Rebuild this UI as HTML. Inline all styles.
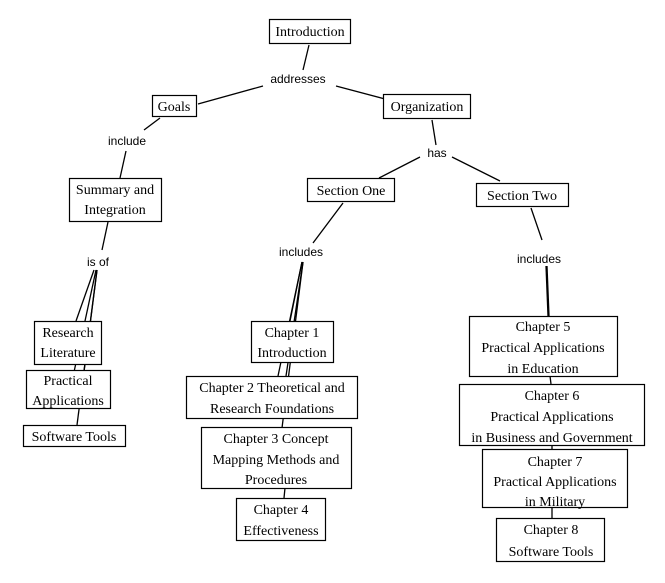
<!DOCTYPE html>
<html><head><meta charset="utf-8"><style>
html,body{margin:0;padding:0;background:#fff;}
svg{display:block}
.b{fill:#fff;stroke:#000;stroke-width:1.2}
.t{font-family:"Liberation Serif",serif;font-size:14px;text-anchor:middle;fill:#000}
.l{font-family:"Liberation Sans",sans-serif;font-size:12px;text-anchor:middle;fill:#000}
line{stroke:#000;stroke-width:1.3}
</style></head><body>
<svg width="665" height="583" viewBox="0 0 665 583" xmlns="http://www.w3.org/2000/svg">
<!-- connectors -->
<line x1="309" y1="45" x2="303" y2="70"/>
<line x1="263" y1="86" x2="198" y2="104"/>
<line x1="336" y1="86" x2="385" y2="99"/>
<line x1="160" y1="118" x2="144" y2="130"/>
<line x1="126" y1="151" x2="120" y2="178"/>
<line x1="432" y1="120" x2="436" y2="145"/>
<line x1="420" y1="157" x2="379" y2="178"/>
<line x1="452" y1="157" x2="500" y2="181"/>
<line x1="343" y1="203" x2="313" y2="243"/>
<line x1="531" y1="208" x2="542" y2="240"/>
<line x1="108" y1="222" x2="102" y2="250"/>
<!-- is of fan -->
<line x1="94" y1="270" x2="76" y2="321"/>
<line x1="96" y1="270" x2="74" y2="372"/>
<line x1="97" y1="270" x2="84" y2="372"/>
<line x1="97" y1="270" x2="77" y2="425"/>
<!-- includes center fan -->
<line x1="302" y1="262" x2="290" y2="321"/>
<line x1="302" y1="262" x2="278" y2="376"/>
<line x1="303" y1="262" x2="282" y2="428"/>
<line x1="303" y1="262" x2="286" y2="376"/>
<line x1="285" y1="488" x2="284" y2="498"/>
<!-- includes right -->
<line x1="546" y1="266" x2="548" y2="316"/>
<line x1="547" y1="266" x2="549" y2="316"/>
<line x1="550" y1="376" x2="551" y2="384"/>
<line x1="552" y1="445" x2="552" y2="449"/>
<line x1="552" y1="507" x2="552" y2="518"/>
<!-- labels -->
<text class="l" x="298" y="83">addresses</text>
<text class="l" x="127" y="145">include</text>
<text class="l" x="437" y="157">has</text>
<text class="l" x="98" y="266">is of</text>
<text class="l" x="301" y="256">includes</text>
<text class="l" x="539" y="263">includes</text>
<!-- boxes -->
<rect class="b" x="269.5" y="19.5" width="81" height="24"/><text class="t" x="310" y="36">Introduction</text>
<rect class="b" x="152.5" y="95.5" width="44" height="21"/><text class="t" x="174" y="111">Goals</text>
<rect class="b" x="383.5" y="94.5" width="87" height="24"/><text class="t" x="427" y="111">Organization</text>
<rect class="b" x="69.5" y="178.5" width="92" height="43"/><text class="t" x="115" y="194">Summary and</text><text class="t" x="115" y="214">Integration</text>
<rect class="b" x="307.5" y="178.5" width="87" height="23"/><text class="t" x="351" y="195">Section One</text>
<rect class="b" x="476.5" y="183.5" width="92" height="23"/><text class="t" x="522" y="200">Section Two</text>
<rect class="b" x="34.5" y="321.5" width="67" height="43"/><text class="t" x="68" y="337">Research</text><text class="t" x="68" y="357">Literature</text>
<rect class="b" x="26.5" y="370.5" width="84" height="38"/><text class="t" x="68" y="385">Practical</text><text class="t" x="68" y="405">Applications</text>
<rect class="b" x="23.5" y="425.5" width="102" height="21"/><text class="t" x="74" y="441">Software Tools</text>
<rect class="b" x="251.5" y="321.5" width="82" height="41"/><text class="t" x="292" y="337">Chapter 1</text><text class="t" x="292" y="357">Introduction</text>
<rect class="b" x="186.5" y="376.5" width="171" height="42"/><text class="t" x="272" y="392">Chapter 2 Theoretical and</text><text class="t" x="272" y="413">Research Foundations</text>
<rect class="b" x="201.5" y="427.5" width="150" height="61"/><text class="t" x="276" y="443">Chapter 3 Concept</text><text class="t" x="276" y="464">Mapping Methods and</text><text class="t" x="276" y="484">Procedures</text>
<rect class="b" x="236.5" y="498.5" width="89" height="42"/><text class="t" x="281" y="514">Chapter 4</text><text class="t" x="281" y="535">Effectiveness</text>
<rect class="b" x="469.5" y="316.5" width="148" height="60"/><text class="t" x="543" y="331">Chapter 5</text><text class="t" x="543" y="352">Practical Applications</text><text class="t" x="543" y="373">in Education</text>
<rect class="b" x="459.5" y="384.5" width="185" height="61"/><text class="t" x="552" y="400">Chapter 6</text><text class="t" x="552" y="421">Practical Applications</text><text class="t" x="552" y="442">in Business and Government</text>
<rect class="b" x="482.5" y="449.5" width="145" height="58"/><text class="t" x="555" y="466">Chapter 7</text><text class="t" x="555" y="486">Practical Applications</text><text class="t" x="555" y="506">in Military</text>
<rect class="b" x="496.5" y="518.5" width="108" height="43"/><text class="t" x="551" y="534">Chapter 8</text><text class="t" x="551" y="556">Software Tools</text>
</svg>
</body></html>
